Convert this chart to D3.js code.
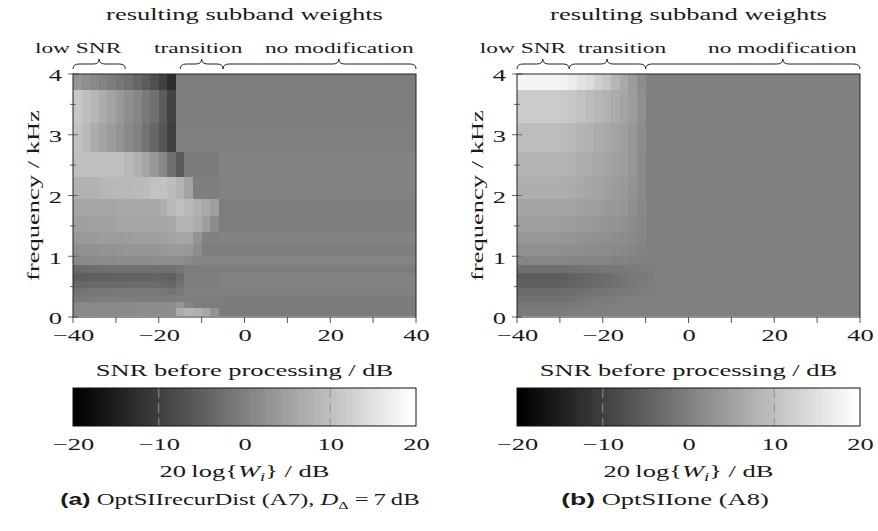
<!DOCTYPE html>
<html>
<head>
<meta charset="utf-8">
<script src="https://cdn.jsdelivr.net/npm/d3@7/dist/d3.min.js"></script>
<style>
    body { margin: 0; background: #fff; }
    svg { display: block; }
    text { font-family: "Liberation Serif", serif; fill: #1a1a1a; }
</style>
</head>
<body>
<svg id="chart" width="878" height="531"></svg>
<script>
(function() {

    // SNR cell edges (dB) and band edges (kHz, top to bottom).
    const snrEdges = [-40, -38, -36, -34, -32, -30, -28, -26, -24, -22, -20, -18, -16, -14, -12, -10, -8, -6, 40];
    const freqEdges = [4.0, 3.73, 3.19, 2.71, 2.30, 1.94, 1.66, 1.40, 1.20, 1.01, 0.86, 0.72, 0.60, 0.47, 0.36, 0.24, 0.14, 0.02];

    // 20 log{W_i} in dB, one row per band (top band first).
    const weightsA7 = [
        [3.5, 2.5, 1.5, 0.5, -0.5, -1.5, -2.5, -4, -5.5, -7.5, -10, -13, -0.4, -0.4, -0.4, -0.4, -0.4, -0.4],
        [11.4, 10, 8.5, 7, 5.5, 4, 2.5, 1, -1, -2.5, -5.5, -9.5, -0.4, -0.4, -0.4, -0.4, -0.4, -0.4],
        [10.5, 9, 7, 5.8, 4.5, 3, 1.5, 0, -2, -4, -6.5, -10, -0.1, -0.1, -0.1, -0.1, -0.1, -0.1],
        [10, 10, 10, 10, 10, 10, 9, 7.6, 5.9, 3.8, 1.3, -2.4, -6, -0.5, -0.5, -0.5, -0.5, 0.5],
        [7.8, 7.8, 7.8, 8.5, 8.8, 8.8, 8.8, 9, 9.5, 10.5, 10.5, 9.5, 8, 5.5, -0.2, -0.2, -0.2, 0.5],
        [6, 6, 6, 6, 6, 6.3, 6.3, 6.3, 6.3, 6.3, 7.2, 9, 10, 9, 7.6, 6.5, 5, -0.2],
        [5, 5, 5.3, 5.3, 5.3, 6, 6, 6, 6, 6, 6.2, 6.5, 8, 8.4, 7, 5, 2, -0.3],
        [4.2, 4.2, 4.3, 4.4, 4.5, 4.5, 4.6, 4.8, 5, 5, 5.2, 5.5, 6, 6, 3, 0.3, 0.3, 0.5],
        [2.6, 2.6, 2.8, 3, 3, 3.2, 3.3, 3.4, 3.5, 3.6, 3.8, 4, 4.2, 3.8, 2, -0.3, -0.3, -0.3],
        [1.6, 1.6, 1.7, 1.8, 1.8, 1.9, 2, 2, 2.1, 2.2, 2.3, 2.3, 2.5, 1.5, 0.7, 0.7, 0.7, 0.7],
        [-3.5, -3, -2.7, -2.7, -2.5, -2.5, -2.5, -2.5, -2.4, -2.4, -2.3, -2.2, -1.5, -0.5, -0.5, -0.5, -0.5, -0.5],
        [-5.3, -5.3, -5, -5, -4.8, -4.8, -4.7, -4.6, -4.6, -4.5, -4.5, -5, -3, -0.3, -0.3, -0.3, -0.3, 0.5],
        [-3.7, -3.7, -3.5, -3.4, -3.4, -3.3, -3.3, -3.2, -3.2, -3.2, -3.3, -3.8, -2, -0.3, -0.3, -0.3, -0.3, 0.4],
        [-2.3, -2, -1.5, -1.5, -1.4, -1.4, -1.4, -1.4, -1.3, -1.3, -1.3, -2, -1, -0.1, -0.1, -0.1, -0.1, 0.4],
        [-1, -0.8, -0.6, -0.6, -0.6, -0.6, -0.6, -0.6, -0.5, -0.5, -0.5, -0.4, -0.2, -0.1, -0.1, -0.1, -0.1, -0.6],
        [1.3, 1.3, 1.3, 1.3, 1.3, 1.5, 1.5, 1.6, 1.6, 1.6, 1.8, 2.2, 3.5, 1, -0.5, -0.5, -0.5, -0.6],
        [1.5, 1.5, 1.6, 1.6, 1.6, 1.8, 1.8, 1.8, 1.9, 2, 2, 2.3, 7, 8, 7.5, 6, 3, -0.6]
    ];

    const weightsA8 = [
        [18.4, 18.4, 18.4, 18.4, 18.4, 18, 17, 15.5, 14.5, 12.5, 11, 8.5, 6.5, 4.5, 2, 0, 0, 0],
        [11.8, 11.8, 11.8, 11.8, 11.8, 11.5, 11, 10.3, 9.5, 8.6, 7.7, 6.8, 5.8, 4.5, 2.5, 0, 0, 0],
        [9.6, 9.6, 9.6, 9.6, 9.6, 9.3, 8.8, 8.3, 7.8, 7, 6.3, 5.6, 4.8, 3.8, 2, 0, 0, 0],
        [8.2, 8.2, 8.2, 8.2, 8.2, 8, 7.7, 7.2, 6.8, 6.3, 5.8, 5.2, 4.5, 3.5, 1.8, 0, 0, 0],
        [7.3, 7.3, 7.3, 7.3, 7.3, 7.1, 6.8, 6.5, 6, 5.5, 5, 4.5, 4, 3, 1.6, 0, 0, 0],
        [5.7, 5.7, 5.7, 5.7, 5.7, 5.7, 5.5, 5.2, 5, 4.6, 4.2, 3.8, 3.3, 2.5, 1.4, 0, 0, 0],
        [4.8, 4.8, 4.8, 4.8, 4.8, 4.6, 4.4, 4.2, 4, 3.7, 3.4, 3, 2.6, 2, 1.1, 0, 0, 0],
        [3.7, 3.7, 3.7, 3.7, 3.7, 3.5, 3.3, 3.1, 2.9, 2.7, 2.5, 2.2, 1.9, 1.5, 0.8, 0, 0, 0],
        [2.6, 2.6, 2.6, 2.6, 2.6, 2.5, 2.3, 2.2, 2, 1.9, 1.7, 1.5, 1.3, 1, 0.5, 0, 0, 0],
        [1, 1, 1, 1, 1, 1, 0.9, 0.9, 0.8, 0.8, 0.7, 0.6, 0.5, 0.4, 0.2, 0, 0, 0],
        [-2.5, -2.5, -2.5, -2.5, -2.5, -2.5, -2.2, -2, -1.8, -1.5, -1.3, -1.1, -0.9, -0.7, -0.5, -0.3, 0, 0],
        [-5.5, -5.5, -5.5, -5.5, -5.5, -5.2, -4.8, -4.3, -3.8, -3.3, -3, -2.5, -2, -1.2, -1, -0.5, 0, 0],
        [-5, -5, -5, -5, -5, -4.7, -4.3, -3.9, -3.5, -3, -2.6, -2.2, -1.8, -1.2, -0.8, -0.4, 0, 0],
        [-3.4, -3.4, -3.4, -3.4, -3.4, -3.2, -2.9, -2.6, -2.3, -2, -1.7, -1.4, -1.1, -0.8, -0.5, -0.2, 0, 0],
        [-2.4, -2.4, -2.4, -2.4, -2.4, -2.2, -2, -1.5, -1.2, -1, -0.7, -0.5, -0.3, -0.1, 0, 0, 0, 0],
        [-1.5, -1.5, -1.5, -1.5, -1.5, -1.3, -1, -0.8, -0.6, -0.4, -0.2, -0.1, 0, 0, 0, 0, 0, 0],
        [-0.9, -0.9, -0.9, -0.9, -0.9, -0.6, -0.4, -0.3, -0.2, -0.1, 0, 0, 0, 0, 0, 0, 0, 0]
    ];

    const xTicks = [-40, -20, 0, 20, 40];
    const xMinor = [-30, -10, 10, 30];
    const yTicks = [0, 1, 2, 3, 4];
    const yMinor = [0.5, 1.5, 2.5, 3.5];
    const cbTicks = [-20, -10, 0, 10, 20];
    const cbGrid = [-10, 10];

    // Region braces in SNR (dB): start, end, tip, label position.
    const bracesA7 = [
        { text: 'low SNR', from: -40, to: -27.8, tip: -33.9, at: -38.8 },
        { text: 'transition', from: -15, to: -5, tip: -10, at: -10.8 },
        { text: 'no modification', from: -5, to: 40, tip: 22, at: 22.1 }
    ];
    const bracesA8 = [
        { text: 'low SNR', from: -40, to: -27.8, tip: -34, at: -38.6 },
        { text: 'transition', from: -27.8, to: -10, tip: -19, at: -15.5 },
        { text: 'no modification', from: -10, to: 40, tip: 22, at: 21.9 }
    ];

    const SX = 1.56; // the reference font is set wide
    const w = 343;
    const h = 243;
    const top = 74;

    const svg = d3.select('#chart');

    const x = d3.scaleLinear().domain([-40, 40]).range([0, w]);
    const y = d3.scaleLinear().domain([0, 4]).range([h, 0]);
    const color = d3.scaleLinear().domain([-20, 20]).range(['#000000', '#ffffff']).clamp(true);

    const label = (parent, px, py, size, anchor, rot, sx) => parent.append('text')
        .attr('transform', `translate(${px},${py})${rot ? ' rotate(-90)' : ''} scale(${sx || SX},1)`)
        .attr('text-anchor', anchor || 'middle')
        .style('font-size', size + 'px');

    const bracePath = (x0, x1, xt, yl) => {
        const r = 6, yEnd = yl + 5, yTip = yl - 5;
        return `M${x0},${yEnd} Q${x0},${yl} ${x0 + r},${yl} L${xt - r},${yl} Q${xt},${yl} ${xt},${yTip}` +
            ` Q${xt},${yl} ${xt + r},${yl} L${x1 - r},${yl} Q${x1},${yl} ${x1},${yEnd}`;
    };

    const drawPanel = (left, weights, braces, capCenter, capSX, capParts) => {

        const g = svg.append('g').attr('transform', `translate(${left},${top})`);

        // Heatmap cells.
        weights.forEach((row, i) => {
            g.append('g').selectAll('rect')
                .data(row)
                .enter()
                .append('rect')
                .attr('x', (d, j) => x(snrEdges[j]))
                .attr('y', y(freqEdges[i]))
                .attr('width', (d, j) => x(snrEdges[j + 1]) - x(snrEdges[j]) + 0.3)
                .attr('height', y(freqEdges[i + 1]) - y(freqEdges[i]) + 0.3)
                .attr('fill', d => color(d))
                .attr('shape-rendering', 'crispEdges');
        });

        // Ticks.
        g.selectAll('.ymaj')
            .data(yTicks)
            .enter()
            .append('line')
            .attr('x1', -5).attr('x2', 5)
            .attr('y1', d => y(d)).attr('y2', d => y(d))
            .attr('stroke', '#666');
        g.selectAll('.ymin')
            .data(yMinor)
            .enter()
            .append('line')
            .attr('x1', -3).attr('x2', 3)
            .attr('y1', d => y(d)).attr('y2', d => y(d))
            .attr('stroke', '#666');
        g.selectAll('.xt')
            .data(xTicks.concat(xMinor))
            .enter()
            .append('line')
            .attr('x1', d => x(d)).attr('x2', d => x(d))
            .attr('y1', h).attr('y2', h + 6)
            .attr('stroke', '#555');

        // Frame.
        g.append('rect')
            .attr('width', w)
            .attr('height', h)
            .attr('fill', 'none')
            .attr('stroke', '#222')
            .attr('stroke-width', 1);

        // Tick labels via the axes.
        const xAxis = g.append('g')
            .attr('transform', `translate(0,${h})`)
            .call(d3.axisBottom(x).tickValues(xTicks).tickSize(0).tickPadding(12));
        xAxis.select('.domain').remove();
        xAxis.selectAll('text')
            .attr('transform', `scale(${SX},1)`)
            .style('font-size', '17px')
            .style('font-family', '"Liberation Serif", serif');

        const yAxis = g.append('g')
            .call(d3.axisLeft(y).tickValues(yTicks).tickFormat(d3.format('d')).tickSize(0));
        yAxis.select('.domain').remove();
        yAxis.selectAll('text')
            .attr('x', 0)
            .attr('dy', '0.4em')
            .attr('transform', `translate(-11,0) scale(${SX},1)`)
            .style('font-size', '17px')
            .style('font-family', '"Liberation Serif", serif');

        // Axis labels and title.
        label(g, w / 2, 302, 17).text('SNR before processing / dB');
        label(g, -34, h / 2, 17, 'middle', true).text('frequency / kHz');
        label(g, w / 2, 19.5 - top, 17).text('resulting subband weights');

        // Braces.
        braces.forEach(b => {
            g.append('path')
                .attr('d', bracePath(x(b.from), x(b.to), x(b.tip), 64 - top))
                .attr('fill', 'none')
                .attr('stroke', '#222')
                .attr('stroke-width', 1);
            label(g, x(b.at), 53 - top, 15).text(b.text);
        });

        // Colorbar.
        const cb = g.append('g').attr('transform', `translate(0,${388 - top})`);
        const cbX = d3.scaleLinear().domain([-20, 20]).range([0, w]);
        const steps = d3.range(64).map(k => -20 + 40 * k / 64);
        cb.selectAll('rect')
            .data(steps)
            .enter()
            .append('rect')
            .attr('x', d => cbX(d))
            .attr('width', cbX(-20 + 40 / 64) - cbX(-20) + 0.4)
            .attr('height', 38)
            .attr('fill', (d, k) => color(-20 + 40 * k / 63))
            .attr('shape-rendering', 'crispEdges');
        cb.selectAll('.grid')
            .data(cbGrid)
            .enter()
            .append('line')
            .attr('x1', d => cbX(d)).attr('x2', d => cbX(d))
            .attr('y1', 0).attr('y2', 38)
            .attr('stroke', '#909090')
            .attr('stroke-dasharray', '10,5');
        cb.append('rect')
            .attr('width', w)
            .attr('height', 38)
            .attr('fill', 'none')
            .attr('stroke', '#111');
        const cbAxis = cb.append('g')
            .attr('transform', 'translate(0,38)')
            .call(d3.axisBottom(cbX).tickValues(cbTicks).tickSize(0).tickPadding(12));
        cbAxis.select('.domain').remove();
        cbAxis.selectAll('text')
            .attr('transform', `scale(${SX},1)`)
            .style('font-size', '17px')
            .style('font-family', '"Liberation Serif", serif');

        const cbl = label(g, w / 2, 476.5 - top, 17);
        cbl.append('tspan').text('20\u2009log{');
        cbl.append('tspan').style('font-style', 'italic').text('W');
        cbl.append('tspan').attr('dy', 4).style('font-size', '12px').style('font-style', 'italic').text('i');
        cbl.append('tspan').attr('dy', -4).text('} / dB');

        // Caption.
        const cap = label(g, capCenter - left, 505 - top, 17, 'middle', false, capSX);
        capParts(cap);
    };

    drawPanel(73, weightsA7, bracesA7, 240, SX * 0.93, cap => {
        cap.append('tspan').style('font-family', '"Liberation Sans", sans-serif').style('font-weight', 'bold').text('(a)');
        cap.append('tspan').text(' OptSIIrecurDist (A7), ');
        cap.append('tspan').style('font-style', 'italic').text('D');
        cap.append('tspan').attr('dy', 4).style('font-size', '11px').text('\u0394');
        cap.append('tspan').attr('dy', -4).text(' =\u20097\u2009dB');
    });

    drawPanel(517, weightsA8, bracesA8, 665, SX, cap => {
        cap.append('tspan').style('font-family', '"Liberation Sans", sans-serif').style('font-weight', 'bold').text('(b)');
        cap.append('tspan').text(' OptSIIone (A8)');
    });

})();
</script>
</body>
</html>
